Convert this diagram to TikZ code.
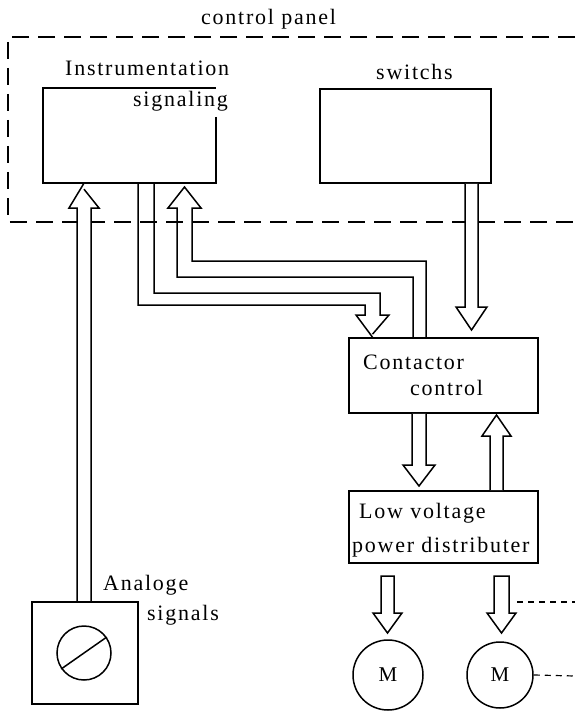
\documentclass[tikz,border=0pt]{standalone}
\usepackage{fontspec}
\newfontfamily\lblfont[LetterSpace=8]{Liberation Serif}
\usetikzlibrary{calc}
\begin{document}
\begin{tikzpicture}[x=1pt,y=-1pt,
  lbl/.style={inner sep=0pt, anchor=base west, font=\lblfont\fontsize{22}{26}\selectfont},
  boxnode/.style={draw, line width=1.6pt, inner sep=0pt},
  blk/.style={draw, line width=1.5pt, line join=miter, fill=white},
  panel/.style={draw, line width=1.5pt, dash pattern=on 17pt off 9pt},
  trail/.style={draw, line width=1.2pt, dash pattern=on 6pt off 5pt},
  motor/.style={draw, circle, line width=1.5pt, inner sep=0pt, font=\fontspec{Liberation Serif}\fontsize{21}{24}\selectfont}]
\useasboundingbox (0,0) rectangle (575,714);

% control panel
\draw[panel] (575,37) -- (8,37) -- (8,222) -- (575,222);
\node[lbl] (cp) at (201,25) {control panel};

% boxes
\node[inner sep=0pt, minimum width=173pt, minimum height=95pt] (inst) at (129.5,135.5) {};
\draw[line width=1.6pt] ([yshift=-29pt]inst.north east) -- (inst.south east) -- (inst.south west) -- (inst.north west) -- (inst.north east);
\node[lbl] (instA) at (65,76) {Instrumentation};
\node[lbl] (instB) at (133,107) {signaling};

\node[boxnode, minimum width=171pt, minimum height=94pt] (sw) at (405.5,136) {};
\node[lbl] (swl) at (376,80) {switchs};

\node[boxnode, minimum width=189pt, minimum height=75pt] (cc) at (443.5,375.5) {};
\node[lbl] (ccA) at (363,369) {Contactor};
\node[lbl] (ccB) at (410,395) {control};

\node[boxnode, minimum width=189pt, minimum height=72pt] (lv) at (443.5,527) {};
\node[lbl] (lvA) at (359,518) {Low voltage};
\node[lbl] (lvB) at (352,552) {power distributer};

\node[boxnode, minimum width=106pt, minimum height=102pt] (ana) at (85,653) {};
\node[lbl] (anaA) at (103,590) {Analoge};
\node[lbl] (anaB) at (147,620) {signals};
\node[draw, circle, line width=1.5pt, minimum size=54pt, inner sep=0pt] (dial) at (84,653) {};
\draw[line width=1.5pt] (dial.215) -- (dial.35);

\node[motor, minimum size=70pt] (m1) at (388,675) {M};
\node[motor, minimum size=66pt] (m2) at (500,675) {M};

% analog signals -> instrumentation
\draw[blk] (77,0 |- ana.north) -- (77,208) -- (69,208) -- (84,0 |- inst.south) ++(0,6) -- (99,208) -- (91,208) -- (91,0 |- ana.north);

% instrumentation -> contactor control
\draw[blk, fill=none] (138,0 |- inst.south) -- (138,305) -- (365,305) -- (365,315) -- (356,315) -- (372.5,0 |- cc.north) ++(0,-3) -- (389,315) -- (380,315) -- (380,293) -- (154,293) -- (154,0 |- inst.south);

% contactor control -> instrumentation
\draw[blk, fill=none] (413,0 |- cc.north) -- (413,277) -- (177,277) -- (177,208) -- (168,208) -- (184.5,187) -- (201,208) -- (192,208) -- (192,261) -- (426,261) -- (426,0 |- cc.north);

% switchs -> contactor control
\draw[blk] (465,0 |- sw.south) -- (465,307) -- (456,307) -- (471.5,330) -- (487,307) -- (478,307) -- (478,0 |- sw.south);

% contactor -> low voltage
\draw[blk] (412,0 |- cc.south) -- (412,465) -- (403,465) -- (419,486) -- (435,465) -- (426,465) -- (426,0 |- cc.south);

% low voltage -> contactor
\draw[blk] (490,0 |- lv.north) -- (490,436) -- (482,436) -- (496.5,415) -- (511,436) -- (503,436) -- (503,0 |- lv.north);

% low voltage -> motors
\draw[blk] (381,576) -- (381,613) -- (373,613) -- (387.5,633) -- (402,613) -- (394,613) -- (394,576) -- cycle;
\draw[blk] (494,576) -- (494,613) -- (487,613) -- (501.5,633) -- (516,613) -- (509,613) -- (509,576) -- cycle;

% continuation lines
\coordinate (e1) at (575,602);
\coordinate (e2) at (575,676);
\draw[trail] (517,602) -- (e1);
\draw[trail] (m2.east) -- (e2);
\end{tikzpicture}
\end{document}
